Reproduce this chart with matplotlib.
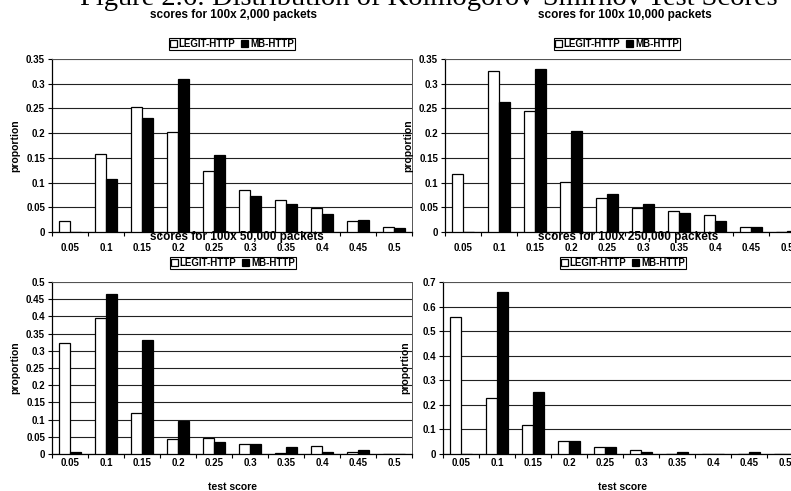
import numpy as np
import matplotlib
matplotlib.use("Agg")
import matplotlib.pyplot as plt
from matplotlib.ticker import MultipleLocator, FixedLocator

plt.rcParams['font.family'] = ['Liberation Sans', 'DejaVu Sans']

categories = ["0.05", "0.1", "0.15", "0.2", "0.25", "0.3", "0.35", "0.4", "0.45", "0.5"]

titles = ["scores for 100x 2,000 packets", "scores for 100x 10,000 packets",
          "scores for 100x 50,000 packets", "scores for 100x 250,000 packets"]

legit_2k = [0.022, 0.157, 0.252, 0.202, 0.123, 0.084, 0.064, 0.049, 0.023, 0.010]
mb_2k = [0.0, 0.107, 0.231, 0.309, 0.155, 0.072, 0.056, 0.036, 0.024, 0.009]

legit_10k = [0.117, 0.326, 0.244, 0.102, 0.068, 0.049, 0.043, 0.035, 0.0095, 0.001]
mb_10k = [0.0, 0.263, 0.330, 0.205, 0.076, 0.056, 0.038, 0.022, 0.010, 0.002]

legit_50k = [0.324, 0.395, 0.119, 0.045, 0.047, 0.029, 0.003, 0.024, 0.005, 0.0]
mb_50k = [0.005, 0.466, 0.330, 0.096, 0.034, 0.028, 0.019, 0.005, 0.011, 0.0]

legit_250k = [0.557, 0.227, 0.117, 0.052, 0.027, 0.018, 0.0, 0.0, 0.0, 0.0]
mb_250k = [0.0, 0.659, 0.251, 0.052, 0.027, 0.0095, 0.007, 0.0, 0.007, 0.0]

series_names = ["LEGIT-HTTP", "MB-HTTP"]
ymax = [0.35, 0.35, 0.5, 0.7]
ystep = [0.05, 0.05, 0.05, 0.1]

W, H = 791, 491
fig = plt.figure(figsize=(W / 100, H / 100), dpi=100)

def fx(px):
    return px / W

def fy(py):
    return 1 - py / H

# axes rectangles in pixel coords: left, top, width, bottom
rects = [(52, 59, 360, 232), (445, 59, 360, 232),
         (52, 282, 360, 454), (443, 282, 360, 454)]
title_pos = [(234, 15), (625, 15), (237, 237), (628, 237)]
legend_pos = [(232, 44), (617, 44), (233, 263), (623, 263)]
ylabel_x = [15, 408, 15, 405]
xpads = [8, 8, 3, 3]

data = [(legit_2k, mb_2k), (legit_10k, mb_10k), (legit_50k, mb_50k), (legit_250k, mb_250k)]

x = np.arange(len(categories))
bw = 0.3
for i, ((lg, mb), (l, t, w, b)) in enumerate(zip(data, rects)):
    ax = fig.add_axes([fx(l), fy(b), fx(w), (b - t) / H])
    h1 = ax.bar(x - bw / 2, lg, bw, color='white', edgecolor='black', linewidth=0.9, zorder=3,
                label=series_names[0])
    h2 = ax.bar(x + bw / 2, mb, bw, color='black', edgecolor='black', linewidth=0.9, zorder=3,
                label=series_names[1])
    ax.set_xlim(-0.5, len(categories) - 0.5)
    ax.set_ylim(0, ymax[i])
    ax.yaxis.set_major_locator(MultipleLocator(ystep[i]))
    ax.yaxis.set_major_formatter(matplotlib.ticker.FuncFormatter(lambda v, p: ('%g' % round(v, 3))))
    ax.set_xticks(x)
    ax.set_xticklabels(categories)
    ax.xaxis.set_minor_locator(FixedLocator(np.arange(-0.5, len(categories), 1.0)))
    ax.tick_params(axis='x', which='major', length=0, pad=xpads[i], labelsize=7)
    ax.tick_params(axis='x', which='minor', length=3, direction='out', width=0.8)
    ax.tick_params(axis='y', which='major', length=3, direction='out', width=0.8, labelsize=7, pad=2)
    for lab in ax.get_xticklabels() + ax.get_yticklabels():
        lab.set_fontweight('bold')
    ax.grid(axis='y', color='#222222', linewidth=0.8, zorder=0)
    ax.set_axisbelow(True)
    for s in ['top', 'right']:
        ax.spines[s].set_linestyle((0, (1, 1)))
        ax.spines[s].set_color('#555555')
        ax.spines[s].set_linewidth(0.7)
    for s in ['left', 'bottom']:
        ax.spines[s].set_color('black')
        ax.spines[s].set_linewidth(0.9)
    ax.patch.set_alpha(0)
    fig.text(fx(ylabel_x[i]), fy((t + b) / 2), "proportion", rotation=90, ha='center', va='center',
             fontsize=7.5, fontweight='bold')
    if i >= 2:
        fig.text(fx(l + w / 2), fy(487), "test score", ha='center', va='center',
                 fontsize=7.5, fontweight='bold')
    tx, ty = title_pos[i]
    fig.text(fx(tx), fy(ty), titles[i], ha='center', va='center', fontsize=8.5, fontweight='bold')
    lx, ly = legend_pos[i]
    leg = fig.legend(handles=[h1, h2], labels=series_names, loc='center',
                     bbox_to_anchor=(fx(lx), fy(ly)), ncol=2, frameon=True, fancybox=False,
                     edgecolor='black', framealpha=1, handlelength=0.7, handleheight=0.7,
                     handletextpad=0.2, columnspacing=0.6, borderpad=0.15,
                     prop={'size': 7, 'weight': 'bold'})
    leg.get_frame().set_linewidth(0.8)

fig.text(fx(80), fy(5), "Figure 2.6: Distribution of Kolmogorov-Smirnov Test Scores",
         ha='left', va='baseline', fontsize=20.5, family=['Liberation Serif', 'DejaVu Serif'])

fig.savefig("out.png", dpi=100)
